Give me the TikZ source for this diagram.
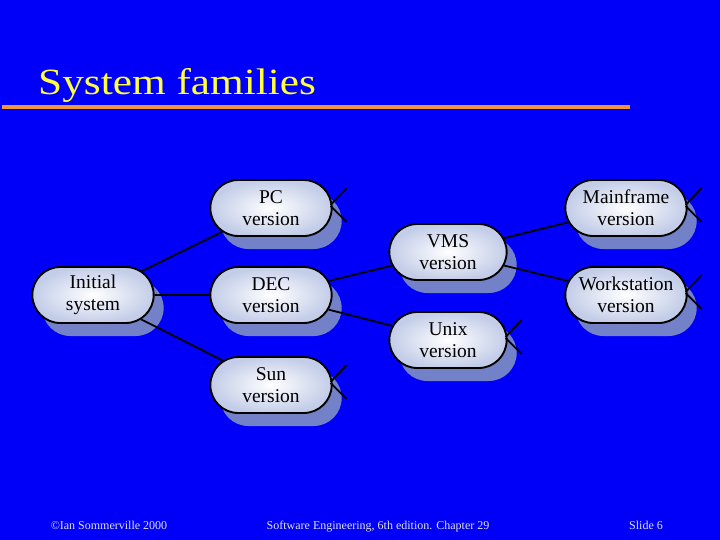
\documentclass[tikz,border=0pt]{standalone}
\usepackage{fontspec}
\setmainfont{Liberation Serif}
\usetikzlibrary{shapes.misc,shadows,positioning}

\definecolor{slideblue}{RGB}{0,0,250}
\definecolor{titleyellow}{RGB}{255,255,60}
\definecolor{ruleorange}{RGB}{240,150,60}
\definecolor{shadowgray}{RGB}{115,130,200}
\definecolor{edgeblue}{RGB}{195,205,232}
\definecolor{footgray}{RGB}{225,225,225}

\begin{document}
\begin{tikzpicture}[
        x=1pt, y=-1pt,
        version/.style={
          rounded rectangle,
          draw=black,
          line width=1.9pt,
          inner color=white,
          outer color=edgeblue,
          minimum width=128pt,
          minimum height=56pt,
          align=center,
          font=\fontsize{19.5}{22}\selectfont,
          drop shadow={shadow xshift=10pt, shadow yshift=-13pt,
                       fill=shadowgray, opacity=1}
        },
        link/.style={line width=1.8pt, draw=black},
        foot/.style={font=\fontsize{12}{14}\selectfont, text=footgray, anchor=base}
      ]

        \useasboundingbox[fill=slideblue] (0,0) rectangle (720,540);

        % title and rule
        \node[anchor=base west, text=titleyellow, inner sep=0pt,
              font=\fontsize{37}{40}\selectfont] (title) at (38,95)
              {\scalebox{1.17}[1]{System families}};
        \draw[ruleorange, line width=4pt] (2,107) -- (630,107);

        % versions
        \node[version] (init) at (93,295) {Initial\\system};
        \node[version] (pc) at (271,208) {PC\\version};
        \node[version] (dec) at (271,295) {DEC\\version};
        \node[version] (sun) at (271,385) {Sun\\version};
        \node[version, minimum width=124pt] (vms) at (448,252) {VMS\\version};
        \node[version, minimum width=124pt] (unix) at (448,340) {Unix\\version};
        \node[version] (main) at (626,208) {Mainframe\\version};
        \node[version] (work) at (626,295) {Workstation\\version};

        \draw[link] (init) -- (pc);
        \draw[link] (init) -- (dec);
        \draw[link] (init) -- (sun);
        \draw[link] (dec) -- (vms);
        \draw[link] (dec) -- (unix);
        \draw[link] (vms) -- (main);
        \draw[link] (vms) -- (work);

        % open ends
        \foreach \v in {pc,sun,unix,main,work} {
          \draw[link] (\v.east) ++(-2,-3) -- ++(16,-17);
          \draw[link] (\v.east) ++(-2,-2) -- ++(16,16);
        }

        % footer
        \node[foot] (copy) at (109,529) {©Ian Sommerville 2000};
        \node[foot] (book) at (378,529) {Software Engineering, 6th edition. Chapter 29};
        \node[foot] (slide) at (646,529) {Slide 6};

      \end{tikzpicture}
\end{document}
